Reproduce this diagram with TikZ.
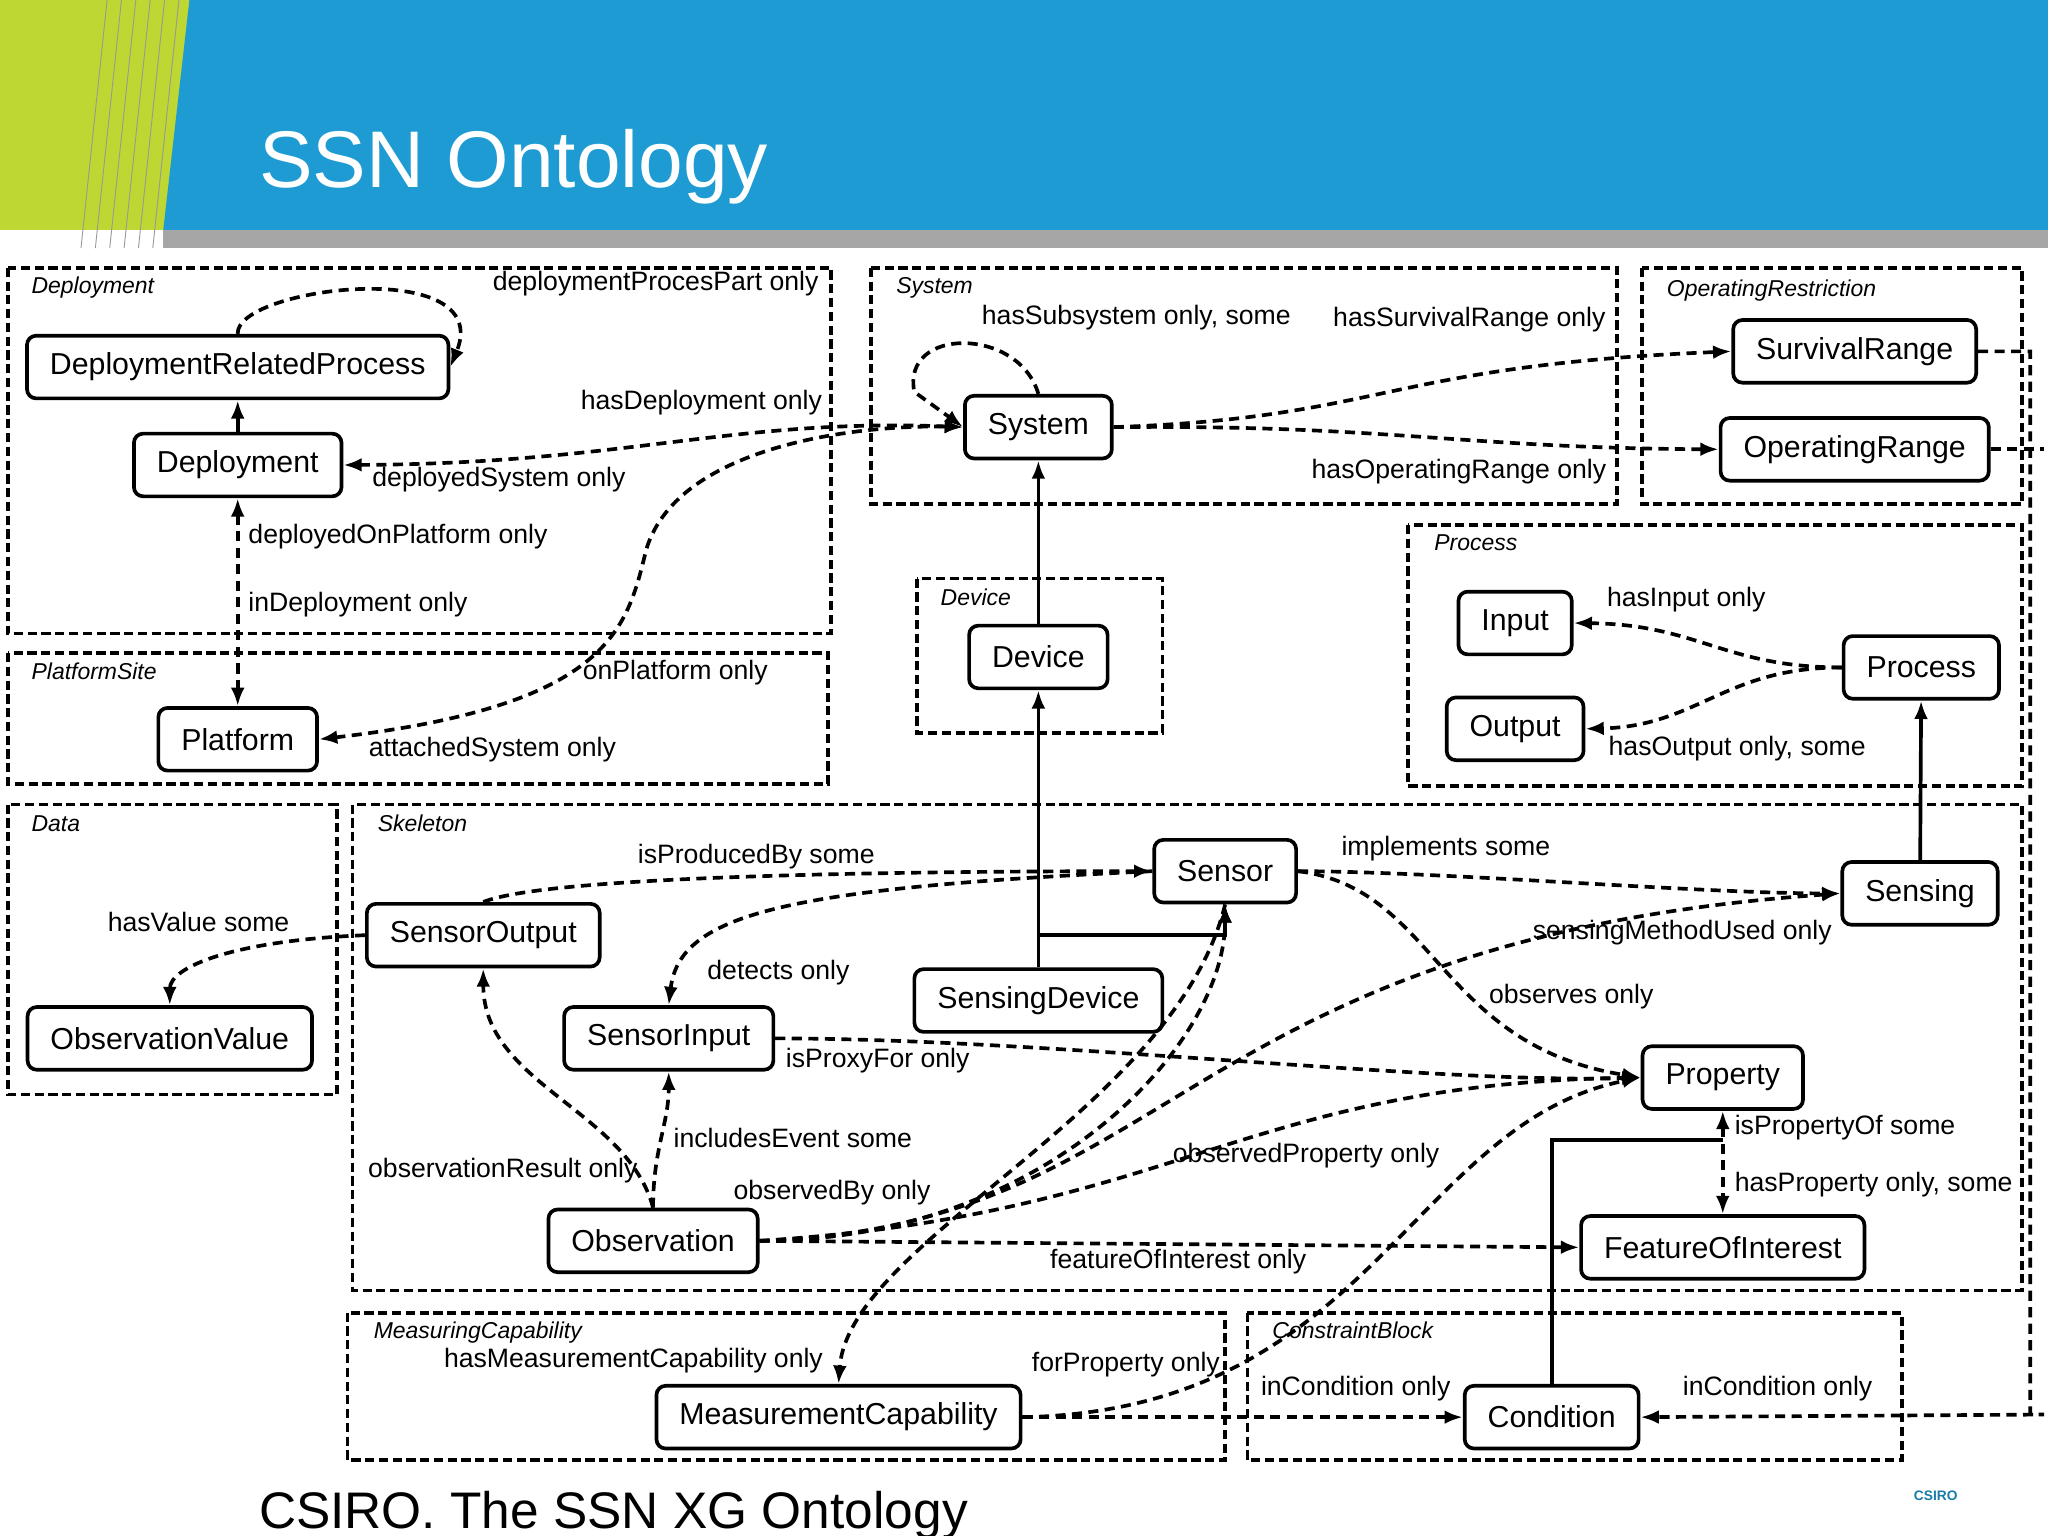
\documentclass[tikz,border=0pt]{standalone}
\usepackage{fontspec}
\setmainfont{Liberation Sans}
\usetikzlibrary{arrows.meta,positioning}
\definecolor{banblue}{RGB}{30,155,210}
\definecolor{bangreen}{RGB}{190,215,50}
\tikzset{
  cls/.style={rounded corners=2pt, draw, thick, fill=white, inner xsep=5pt, minimum height=4.8mm, font=\fontsize{6.6}{7}\selectfont},
  grp/.style={draw, dashed, thick, dash pattern=on 2pt off 1pt},
  glab/.style={anchor=north west, inner sep=1pt, font=\fontsize{5}{6}\selectfont\itshape},
  lab/.style={inner sep=1pt, font=\fontsize{5.8}{6.5}\selectfont},
  rel/.style={-{Latex[length=4pt]}, thick, dashed, dash pattern=on 2.2pt off 1.4pt},
  isa/.style={-{Latex[length=4pt]}, thick}
}
\begin{document}
\begin{tikzpicture}[x=0.1mm,y=-0.1mm]
  \useasboundingbox (0,0) rectangle (1568,1176);
  \clip (0,0) rectangle (1568,1176);
  % banner
  \fill[bangreen] (0,0) rectangle (170,176);
  \fill[banblue] (145,0) -- (1568,0) -- (1568,176) -- (125,176) -- cycle;
  \fill[gray!70] (125,176) rectangle (1568,190);
  \foreach \i in {0,...,5} \draw[gray!80, very thin] (62+\i*11,190) -- (82+\i*11,0);
  \node[anchor=west, text=white, font=\fontsize{17.5}{20}\selectfont] (title) at (186,128) {SSN Ontology};
  \node[anchor=west, font=\fontsize{11.2}{13}\selectfont] (foot) at (186,1160) {CSIRO. The SSN XG Ontology};
  \node[text=banblue!80!black, font=\fontsize{3}{4}\selectfont\bfseries] (logo) at (1482,1145) {CSIRO};

  % groups
  \draw[grp] (6,205) rectangle (636,485);   \node[glab] (gdep) at (20,208) {Deployment};
  \draw[grp] (6,500) rectangle (634,600);   \node[glab] (gplat) at (20,503) {PlatformSite};
  \draw[grp] (667,205) rectangle (1238,386); \node[glab] (gsys) at (682,208) {System};
  \draw[grp] (1257,205) rectangle (1548,386); \node[glab] (gor) at (1272,210) {OperatingRestriction};
  \draw[grp] (1078,402) rectangle (1548,602); \node[glab] (gproc) at (1094,405) {Process};
  \draw[grp] (702,443) rectangle (890,561); \node[glab] (gdev) at (716,447) {Device};
  \draw[grp] (6,616) rectangle (258,838);   \node[glab] (gdata) at (20,620) {Data};
  \draw[grp] (270,616) rectangle (1548,988); \node[glab] (gskel) at (285,620) {Skeleton};
  \draw[grp] (266,1005) rectangle (938,1118); \node[glab] (gmc) at (282,1008) {MeasuringCapability};
  \draw[grp] (955,1005) rectangle (1456,1118); \node[glab] (gcb) at (970,1008) {ConstraintBlock};

  % classes
  \node[cls] (drp) at (182,281) {DeploymentRelatedProcess};
  \node[cls] (dep) at (182,356) {Deployment};
  \node[cls] (plat) at (182,566) {Platform};
  \node[cls] (sys) at (795,327) {System};
  \node[cls] (surv) at (1420,269) {SurvivalRange};
  \node[cls] (oper) at (1420,344) {OperatingRange};
  \node[cls] (inp) at (1160,477) {Input};
  \node[cls] (outp) at (1160,558) {Output};
  \node[cls] (proc) at (1471,511) {Process};
  \node[cls] (dev) at (795,503) {Device};
  \node[cls] (sens) at (938,667) {Sensor};
  \node[cls] (sensing) at (1470,684) {Sensing};
  \node[cls] (sout) at (370,716) {SensorOutput};
  \node[cls] (oval) at (130,795) {ObservationValue};
  \node[cls] (sinp) at (512,795) {SensorInput};
  \node[cls] (sdev) at (795,766) {SensingDevice};
  \node[cls] (prop) at (1319,825) {Property};
  \node[cls] (obs) at (500,950) {Observation};
  \node[cls] (foi) at (1319,955) {FeatureOfInterest};
  \node[cls] (mcap) at (642,1085) {MeasurementCapability};
  \node[cls] (cond) at (1188,1085) {Condition};
  \coordinate (rail) at (1565,1083);
  \coordinate (ccorner) at (1188,873);

  % subclass links
  \draw[isa] (dep) -- (drp);
  \draw[isa] (dev) -- (sys);
  \draw[isa] (sdev) -- (dev);
  \draw[isa] (sdev.north) -- ++(0,-25) -| (sens.south);
  \draw[isa] (sensing) -- (proc);
  \draw[thick] (cond.north) -- (ccorner) -- (ccorner -| prop.south);

  % properties
  \draw[rel] (drp.north) .. controls (180,220) and (380,195) .. (drp.east);
  \node[lab] (l1) at (502,217) {deploymentProcesPart only};
  \draw[rel, {Latex[length=4pt]}-{Latex[length=4pt]}] (dep) -- (plat);
  \node[lab, anchor=west] (l2) at (186,411) {deployedOnPlatform only};
  \node[lab, anchor=west] (l3) at (186,463) {inDeployment only};
  \draw[rel, {Latex[length=4pt]}-{Latex[length=4pt]}] (dep.east) .. controls (480,355) and (560,320) .. (sys.west);
  \node[lab] (l4) at (537,308) {hasDeployment only};
  \node[lab] (l5) at (382,367) {deployedSystem only};
  \draw[rel, {Latex[length=4pt]}-{Latex[length=4pt]}] (plat.east) .. controls (470,540) and (480,480) .. (495,420) .. controls (520,340) and (660,325) .. (sys.west);
  \node[lab] (l6) at (517,515) {onPlatform only};
  \node[lab] (l7) at (377,574) {attachedSystem only};
  \draw[rel] (sys.north) .. controls (780,250) and (690,250) .. (700,300) -- (sys.west);
  \node[lab] (l8) at (870,243) {hasSubsystem only, some};
  \draw[rel] (sys.east) .. controls (1060,320) and (1060,280) .. (surv.west);
  \node[lab] (l9) at (1125,245) {hasSurvivalRange only};
  \draw[rel] (sys.east) .. controls (1060,325) and (1120,343) .. (oper.west);
  \node[lab] (l10) at (1117,361) {hasOperatingRange only};
  \draw[rel] (proc.west) .. controls (1320,511) and (1300,478) .. (inp.east);
  \node[lab] (l11) at (1291,459) {hasInput only};
  \draw[rel] (proc.west) .. controls (1320,511) and (1300,556) .. (outp.east);
  \node[lab] (l12) at (1330,573) {hasOutput only, some};
  \draw[rel] (sout.north) .. controls (420,670) and (700,667) .. (sens.west);
  \node[lab] (l13) at (579,656) {isProducedBy some};
  \draw[rel] (sens.east) .. controls (1100,667) and (1300,684) .. (sensing.west);
  \node[lab] (l14) at (1107,650) {implements some};
  \draw[rel] (sens.east) .. controls (1100,680) and (1100,800) .. (prop.west);
  \node[lab] (l15) at (1203,763) {observes only};
  \draw[rel] (sens.west) .. controls (600,680) and (520,700) .. (sinp.north);
  \node[lab] (l16) at (596,745) {detects only};
  \draw[rel] (sout.west) .. controls (180,720) and (130,740) .. (oval.north);
  \node[lab] (l17) at (152,706) {hasValue some};
  \draw[rel] (sinp.east) .. controls (800,795) and (1100,830) .. (prop.west);
  \node[lab] (l18) at (672,812) {isProxyFor only};
  \draw[rel] (obs.north) .. controls (480,850) and (370,830) .. (sout.south);
  \node[lab] (l19) at (385,896) {observationResult only};
  \draw[rel] (obs.north) .. controls (500,880) and (512,860) .. (sinp.south);
  \node[lab] (l20) at (607,871) {includesEvent some};
  \draw[rel] (obs.east) .. controls (800,950) and (938,800) .. (sens.south);
  \node[lab] (l21) at (637,913) {observedBy only};
  \draw[rel] (obs.east) .. controls (900,930) and (950,830) .. (prop.west);
  \node[lab] (l22) at (1000,885) {observedProperty only};
  \draw[rel] (obs.east) -- (foi.west);
  \node[lab] (l23) at (902,966) {featureOfInterest only};
  \draw[rel] (obs.east) .. controls (900,940) and (900,720) .. (sensing.west);
  \node[lab] (l24) at (1288,714) {sensingMethodUsed only};
  \draw[rel, {Latex[length=4pt]}-{Latex[length=4pt]}] (prop) -- (foi);
  \node[lab, anchor=west] (l25) at (1324,863) {isPropertyOf some};
  \node[lab, anchor=west] (l26) at (1324,907) {hasProperty only, some};
  \draw[rel] (sens.south) .. controls (900,850) and (650,950) .. (mcap.north);
  \node[lab] (l27) at (485,1042) {hasMeasurementCapability only};
  \draw[rel] (mcap.east) .. controls (1050,1080) and (1080,860) .. (prop.west);
  \node[lab] (l28) at (862,1045) {forProperty only};
  \draw[rel] (mcap.east) -- (cond.west);
  \node[lab] (l29) at (1038,1063) {inCondition only};
  \draw[rel] (surv.east) -- ++(40,0) |- (rail) -- (cond.east);
  \draw[rel, -] (oper.east) -- (oper.east -| rail);
  \node[lab] (l30) at (1361,1063) {inCondition only};
\end{tikzpicture}
\end{document}
